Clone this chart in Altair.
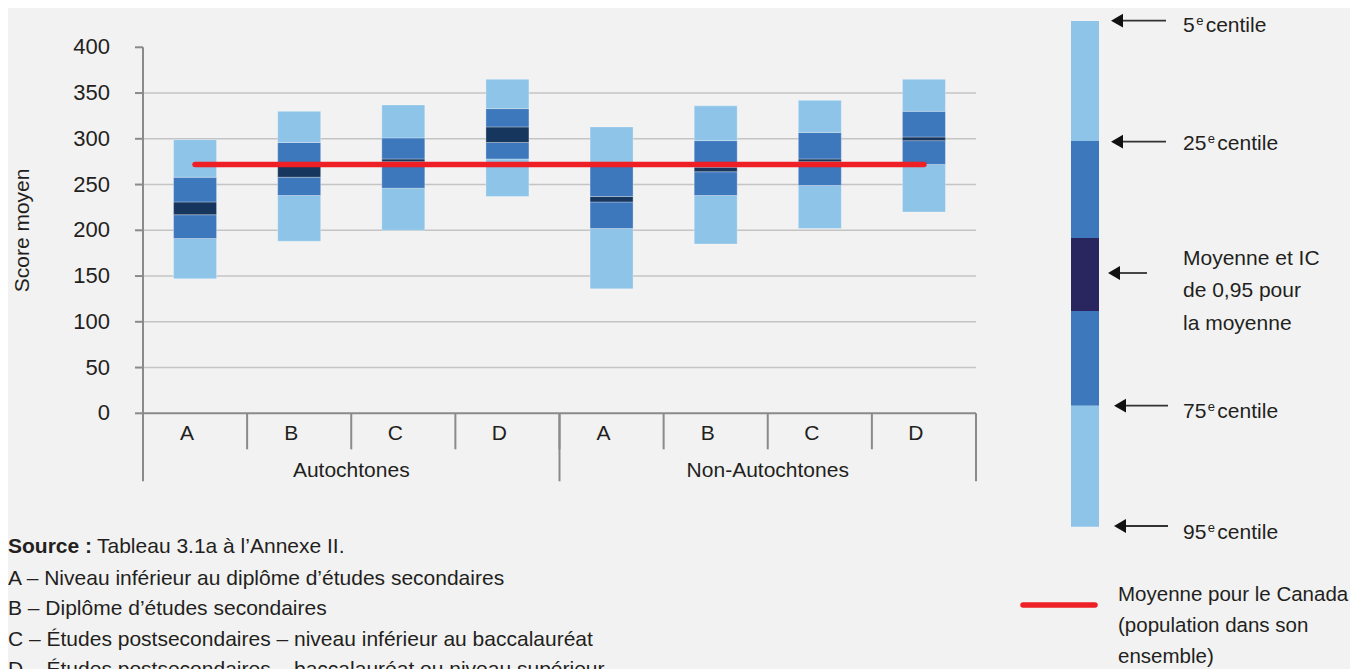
import altair as alt
import pandas as pd

# ---------------- data ----------------
groups = ["Autochtones"] * 4 + ["Non-Autochtones"] * 4
levels = ["A", "B", "C", "D", "A", "B", "C", "D"]
p05 = [147, 188, 200, 237, 136, 185, 202, 220]
p25 = [191, 238, 246, 278, 202, 238, 249, 272]
ci_lo = [217, 258, 275, 296, 231, 264, 275, 298]
ci_hi = [231, 270, 278, 313, 237, 269, 278, 302]
p75 = [258, 296, 301, 333, 273, 298, 307, 330]
p95 = [299, 330, 337, 365, 313, 336, 342, 365]
canada_mean = 272
y_ticks = [0, 50, 100, 150, 200, 250, 300, 350, 400]
grid_values = [50, 100, 150, 200, 250, 300, 350]

keys = [f"{g}|{l}" for g, l in zip(groups, levels)]
seg_names = ["p05-p25", "p25-ci", "ci", "ci-p75", "p75-p95"]

rows = []
for i, k in enumerate(keys):
    b = [p05[i], p25[i], ci_lo[i], ci_hi[i], p75[i], p95[i]]
    for j, s in enumerate(seg_names):
        rows.append({"key": k, "seg": s, "lo": b[j], "hi": b[j + 1]})
bars_df = pd.DataFrame(rows)
cat_df = pd.DataFrame({"key": keys, "group": groups, "level": levels})
grp_df = pd.DataFrame({"key": [keys[1], keys[5]], "group": [groups[1], groups[5]]})
start_df = pd.DataFrame({"key": [keys[0], keys[4]]})
end_df = pd.DataFrame({"key": [keys[-1]]})
mean_df = pd.DataFrame({"key": [keys[0], keys[-1]], "v": [canada_mean, canada_mean]})
grid_df = pd.DataFrame({"v": grid_values})
tick_df = pd.DataFrame({"v": y_ticks})
base_df = pd.DataFrame({"v": [y_ticks[0]]})
yaxis_df = pd.DataFrame({"lo": [y_ticks[0]], "hi": [y_ticks[-1]]})
one = pd.DataFrame({"d": [0]})

# ---------------- style ----------------
LIGHT = "#8dc4e8"
MED = "#3d77bc"
DARK = "#17365d"
LEG_DARK = "#29265f"
RED = "#ee2026"
AX = "#8a8a8a"
GRID = "#c4c4c4"
TXT = "#231f20"
BG = "#f2f2f2"
FONT = "Liberation Sans, Arial, sans-serif"
FS = 21

W, H = 833, 366
OX, OY = 143, 47.3  # page position of plot origin

xscale = alt.Scale(domain=keys, paddingInner=0, paddingOuter=0)
yscale = alt.Scale(domain=[0, 400], nice=False)

grid = alt.Chart(grid_df).mark_rule(color=GRID, strokeWidth=1.6).encode(
    x=alt.value(0), x2=alt.value(W),
    y=alt.Y("v:Q", scale=yscale, axis=None),
)

bars = alt.Chart(bars_df).mark_bar(width=43, stroke="#ffffff", strokeOpacity=0.3, strokeWidth=1).encode(
    x=alt.X("key:N", scale=xscale, axis=None),
    y=alt.Y("lo:Q", scale=yscale, axis=None),
    y2="hi:Q",
    color=alt.Color("seg:N", scale=alt.Scale(domain=seg_names,
                                             range=[LIGHT, MED, DARK, MED, LIGHT]),
                    legend=None),
)

mean_line = alt.Chart(mean_df).mark_line(color=RED, strokeWidth=5.5, strokeCap="round").encode(
    x=alt.X("key:N", scale=xscale, axis=None),
    y=alt.Y("v:Q", scale=yscale, axis=None),
)

# hand-drawn axes (through the scales)
x_base = alt.Chart(base_df).mark_rule(color=AX, strokeWidth=2).encode(
    x=alt.value(0), x2=alt.value(W), y=alt.Y("v:Q", scale=yscale, axis=None))
y_dom = alt.Chart(yaxis_df).mark_rule(color=AX, strokeWidth=2).encode(
    x=alt.value(0), y=alt.Y("lo:Q", scale=yscale, axis=None), y2="hi:Q")
y_tk = alt.Chart(tick_df).mark_rule(color=AX, strokeWidth=2).encode(
    x=alt.value(-8), x2=alt.value(0), y=alt.Y("v:Q", scale=yscale, axis=None))
y_lab = alt.Chart(tick_df).mark_text(font=FONT, fontSize=22, color=TXT, align="right",
                                     baseline="middle").encode(
    x=alt.value(110 - OX), y=alt.Y("v:Q", scale=yscale, axis=None), text="v:Q")

sep_short = alt.Chart(cat_df).mark_rule(color=AX, strokeWidth=2).encode(
    x=alt.X("key:N", bandPosition=0, scale=xscale, axis=None),
    y=alt.value(H), y2=alt.value(H + 36),
)
sep_long = alt.Chart(start_df).mark_rule(color=AX, strokeWidth=2).encode(
    x=alt.X("key:N", bandPosition=0, scale=xscale, axis=None),
    y=alt.value(H), y2=alt.value(H + 68),
)
sep_end = alt.Chart(end_df).mark_rule(color=AX, strokeWidth=2).encode(
    x=alt.X("key:N", bandPosition=1, scale=xscale, axis=None),
    y=alt.value(H), y2=alt.value(H + 68),
)
level_text = alt.Chart(cat_df).mark_text(font=FONT, fontSize=FS, color=TXT, baseline="middle", dx=-8).encode(
    x=alt.X("key:N", scale=xscale, axis=None),
    y=alt.value(432.5 - OY + 1.5),
    text="level:N",
)
group_text = alt.Chart(grp_df).mark_text(font=FONT, fontSize=FS, color=TXT, baseline="middle").encode(
    x=alt.X("key:N", bandPosition=1, scale=xscale, axis=None),
    y=alt.value(469 - OY + 1.5),
    text="group:N",
)


def txt(s, x, y, size=FS, weight="normal", align="left", angle=0):
    m = alt.Chart(one).mark_text(text=s, font=FONT, fontSize=size, fontWeight=weight,
                                 color=TXT, align=align, baseline="middle", angle=angle)
    return m.encode(x=alt.value(x - OX), y=alt.value(y - OY + 1.5))


def rect(x1, x2, y1, y2, color):
    return alt.Chart(one).mark_rect(color=color).encode(
        x=alt.value(x1 - OX), x2=alt.value(x2 - OX),
        y=alt.value(y1 - OY), y2=alt.value(y2 - OY))


def arrow(tip, end, y):
    shaft = alt.Chart(one).mark_rule(color="#333333", strokeWidth=1.8).encode(
        x=alt.value(tip + 8 - OX), x2=alt.value(end - OX), y=alt.value(y - OY))
    head = alt.Chart(one).mark_point(shape="triangle-left", filled=True, size=190,
                                     color="#111111", opacity=1).encode(
        x=alt.value(tip + 6 - OX), y=alt.value(y - OY))
    return [shaft, head]


def centile(num, y):
    w = 0.556 * FS * len(num)
    return [txt(num, 1183, y), txt("e", 1183 + w + 1.5, y - 5, size=13),
            txt("centile", 1183 + w + 11, y)]


layers = [grid, bars, mean_line, x_base, y_dom, y_tk, y_lab,
          sep_short, sep_long, sep_end, level_text, group_text]

# y-axis title
layers.append(txt("Score moyen", 22.5, 230.4 - 1.5, angle=270, align="center"))

# legend (schematic bar)
layers += [
    rect(1071, 1099, 21, 141, LIGHT),
    rect(1071, 1099, 141, 238, MED),
    rect(1071, 1099, 238, 311, LEG_DARK),
    rect(1071, 1099, 311, 405.7, MED),
    rect(1071, 1099, 405.7, 526.7, LIGHT),
]
layers += arrow(1111, 1166, 20.7)
layers += arrow(1111, 1166, 141.7)
layers += arrow(1108, 1147, 273)
layers += arrow(1114, 1168, 405.7)
layers += arrow(1114, 1168, 526)
layers += centile("5", 24.5)
layers += centile("25", 142.5)
layers += centile("75", 410.5)
layers += centile("95", 531)
layers += [txt("Moyenne et IC", 1183, 257.7),
           txt("de 0,95 pour", 1183, 289.7),
           txt("la moyenne", 1183, 322)]
layers.append(alt.Chart(one).mark_rule(color=RED, strokeWidth=5.5, strokeCap="round").encode(
    x=alt.value(1023 - OX), x2=alt.value(1095 - OX), y=alt.value(605 - OY)))
layers += [txt("Moyenne pour le Canada", 1118, 593.7, size=20.5),
           txt("(population dans son", 1118, 624.7, size=20.5),
           txt("ensemble)", 1118, 655.7, size=20.5)]

# footnotes
layers += [
    txt("Source :", 8, 545, weight="bold"),
    txt("Tableau 3.1a à l\u2019Annexe II.", 97, 545),
    txt("A \u2013 Niveau inférieur au diplôme d\u2019études secondaires", 8, 577),
    txt("B \u2013 Diplôme d\u2019études secondaires", 8, 607),
    txt("C \u2013 Études postsecondaires \u2013 niveau inférieur au baccalauréat", 8, 638),
    txt("D \u2013 Études postsecondaires \u2013 baccalauréat ou niveau supérieur", 8, 668),
]

chart = alt.layer(*layers).properties(
    width=W, height=H,
    autosize=alt.AutoSizeParams(type="none"),
    padding={"left": OX - 8, "top": OY - 8, "right": 1350 - OX - W, "bottom": 661 - (OY - 8) - H},
    background=BG,
).configure_view(strokeWidth=0)

chart.save("out.html", embed_options={"renderer": "svg", "actions": False})
